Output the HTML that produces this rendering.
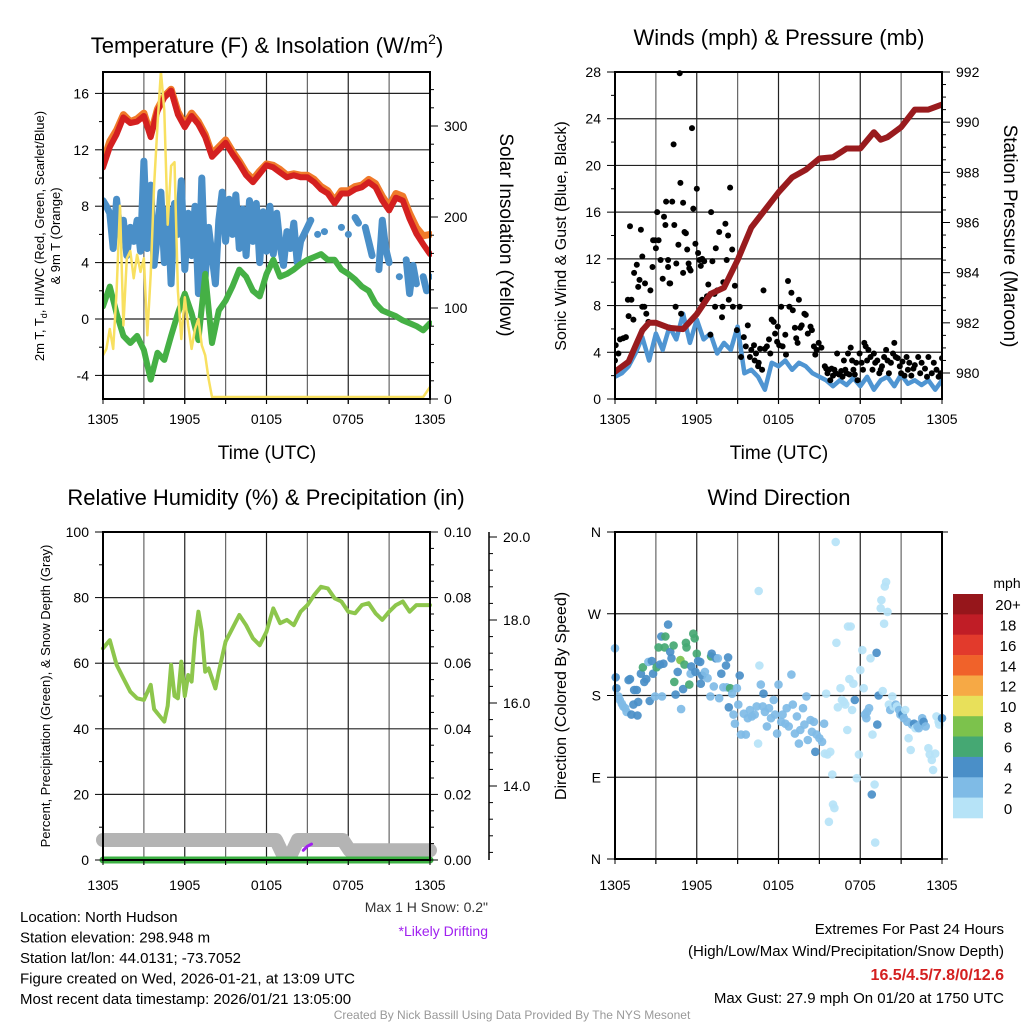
<!DOCTYPE html>
<html><head><meta charset="utf-8"><style>
html,body{margin:0;padding:0;background:#fff;}
svg{display:block;font-family:"Liberation Sans",Arial,sans-serif;}
</style></head><body>
<svg id="chart" width="1024" height="1024" viewBox="0 0 1024 1024" xmlns="http://www.w3.org/2000/svg">
<rect x="0" y="0" width="1024" height="1024" fill="#fff"/>
</svg>
<script>
// ---------- DATA ----------
const timeTicks = ["1305","1905","0105","0705","1305"];
const tempHalfHourT = [0,0.5,1,1.5,2,2.5,3,3.5,4,4.5,5,5.5,6,6.5,7,7.5,8,8.5,9,9.5,10,10.5,11,11.5,12,12.5,13,13.5,14,14.5,15,15.5,16,16.5,17,17.5,18,18.5,19,19.5,20,20.5,21,21.5,22,22.5,23,23.5,24];
const tempRed = [10.75,12.2,13.1,14.3,13.9,14.0,14.4,12.9,14.75,15.7,16.2,14.5,13.6,14.4,13.8,12.9,11.5,12.0,12.5,11.7,11.0,10.2,9.7,10.3,10.9,10.75,10.4,10.05,10.2,10.05,10.05,9.7,9.2,8.9,8.2,8.9,8.9,9.2,9.35,9.7,9.35,8.4,7.7,8.6,8.4,7.1,6.05,5.3,4.6];
const temp9m = [11.1,12.6,13.4,14.5,14.0,14.2,14.6,13.1,14.9,15.8,16.3,14.7,13.8,14.6,14.0,13.1,11.7,12.2,12.7,11.9,11.2,10.4,9.9,10.5,11.0,10.9,10.6,10.2,10.3,10.2,10.2,9.9,9.4,9.1,8.4,9.1,9.1,9.4,9.5,9.9,9.6,8.7,8.0,8.9,8.7,7.5,6.5,5.9,6.0];
const dewGreen = [0.9,2.3,0.4,-1.2,-1.7,-1.2,-2.2,-4.3,-2.4,-2.9,-1.2,0.4,1.8,0.4,-1.5,3.2,-1.7,0.6,1.3,2.3,3.5,3.0,2.0,1.6,3.2,4.2,3.0,3.2,3.5,3.9,4.2,4.4,4.6,4.2,4.2,3.5,3.2,2.8,2.3,2.0,1.1,0.6,0.4,0.2,-0.1,-0.3,-0.5,-0.8,-0.3];
const hiwcBlue = [8.4,8.0,7.5,5.0,8.5,6.0,7.0,4.5,6.5,
5.5,7.0,4.8,11.2,5.0,9.5,3.8,6.0,
9.0,4.0,7.8,2.5,8.2,6.0,9.8,3.5,
7.5,4.5,8.0,1.8,10.0,3.0,6.5,4.5,
2.5,7.0,9.0,5.5,8.5,6.0,8.8,5.0,
7.8,4.5,8.4,5.5,8.2,4.0,7.6,4.8,
8.0,4.6,7.5,5.2,3.8,6.2,5.0,6.8,
4.0,5.5,6.0,6.5,7.0,null,6.0,null,
6.2,null,null,null,null,6.5,null,6.0,
null,7.2,6.8,null,6.5,5.5,4.5,null,
3.5,7.0,5.0,4.0,null,null,3.0,null,
4.2,1.8,3.8,2.5,null,3.0,2.0,null,3.0];
const solarT = [0,0.25,0.5,0.75,1,1.25,1.5,1.75,2,2.25,2.5,2.75,3,3.25,3.5,3.75,4,4.25,4.5,4.75,5,5.25,5.5,5.75,6,6.25,6.5,6.75,7,7.25,7.5,7.75,8,12,18,23.5,24];
const solarV = [46,53,75,53,117,211,79,153,161,131,157,138,153,68,135,233,300,359,316,190,255,259,117,64,110,79,53,75,86,57,46,20,0,0,0,0,11];
const pressT = [0,1,2,2.5,3,4,5,6,7,8,9,10,11,12,13,14,15,16,17,18,19,19.5,20,21,22,23,24];
const pressV = [980.05,980.45,981.7,982.0,982.0,981.8,981.75,982.35,983.15,983.4,984.5,985.8,986.5,987.2,987.8,988.1,988.55,988.6,988.95,988.95,989.6,989.3,989.4,989.8,990.5,990.5,990.7];
const windSpeed = [1.9,2.2,2.8,3.9,5.3,3.3,5.6,4.2,6.2,5.1,7.3,4.8,6.8,5.1,5.6,3.9,4.8,4.2,6.2,2.2,2.5,1.9,0.8,3.1,2.8,3.3,2.5,3.1,2.8,2.2,1.9,1.6,1.1,1.6,1.2,1.8,1.1,1.9,0.8,1.6,1.9,1.1,2.1,1.3,1.6,1.2,1.6,0.8,1.6];
const gustT = [0,0.05,0.25,0.37,0.6,0.8,0.95,1.1,1.0,1.2,1.35,1.4,1.6,1.7,1.8,1.9,2.0,2.0,2.15,2.2,2.3,2.45,2.6,2.75,2.8,2.95,3.0,3.1,3.2,3.35,3.5,3.6,3.7,3.75,3.9,3.9,4.0,4.05,4.2,4.3,4.35,4.45,4.5,4.65,4.75,4.8,4.85,5.0,5.0,5.1,5.2,5.3,5.4,5.45,5.55,5.65,5.75,5.9,6.0,6.1,6.2,6.3,6.4,6.55,6.4,6.75,6.85,7.0,7.05,7.15,7.3,7.35,7.4,7.5,7.65,7.85,7.9,7.95,8.1,8.2,8.3,8.35,8.45,8.6,8.65,8.8,8.95,9.15,9.25,9.45,9.6,9.75,9.9,10.0,10.2,10.25,10.35,10.5,10.55,10.65,10.8,10.9,11.0,11.15,11.3,11.4,11.5,11.65,11.75,11.9,11.95,12.05,12.2,12.3,12.5,12.55,12.7,12.8,12.95,13.05,13.2,13.3,13.4,13.5,13.6,13.7,13.9,14.0,14.15,14.35,14.45,14.6,14.7,14.8,14.95,15.15,15.4,15.5,15.6,15.7,15.8,15.9,16.0,16.1,16.2,16.3,16.45,16.6,16.7,16.8,16.9,17.0,17.1,17.2,17.3,17.4,17.5,17.6,17.7,17.8,17.95,18.1,18.2,18.3,18.4,18.5,18.6,18.75,18.9,19.0,19.1,19.25,19.4,19.5,19.6,19.75,19.9,20.0,20.1,20.25,20.4,20.5,20.6,20.75,20.9,21.0,21.1,21.25,21.4,21.5,21.6,21.75,21.9,22.0,22.25,22.4,22.5,22.75,22.9,23.0,23.25,23.4,23.6,23.75,23.9,24.0];
const gustV = [3.3,4.6,3.9,5.1,5.2,5.3,8.5,14.8,7.1,8.5,6.8,10.8,11.5,9.6,10.2,14.5,7.9,12.2,7.9,9.9,7.3,6.6,9.3,11.3,13.6,13.6,12.9,16.0,13.6,11.9,10.3,15.6,14.9,16.9,11.3,11.9,9.9,9.9,16.9,21.8,14.9,7.9,11.6,13.2,27.9,18.5,7.3,10.8,16.8,14.3,14.2,12.8,11.6,11.2,11.0,23.2,16.3,13.3,18.0,12.5,11.9,11.4,12.0,11.8,8.5,8.8,9.8,5.5,16.0,11.8,9.0,7.9,12.9,9.3,14.3,7.0,7.9,10.0,15.0,11.9,14.0,8.5,18.1,12.8,7.9,9.7,5.9,7.9,3.6,5.3,4.5,6.3,3.6,4.2,4.6,3.3,3.9,2.8,3.1,4.3,2.5,9.3,4.3,4.5,5.1,3.9,6.8,6.6,5.6,4.9,6.2,4.6,7.9,4.5,5.5,3.8,10.1,7.9,9.1,7.6,6.1,5.2,4.8,8.5,6.1,6.3,7.3,7.2,5.6,6.2,5.9,4.5,3.8,4.2,4.8,4.4,2.8,2.6,2.2,2.5,1.6,2.6,2.0,2.5,2.2,3.9,2.1,2.4,1.9,3.3,2.5,2.2,3.9,2.1,4.4,3.3,2.5,2.1,3.1,1.6,3.9,3.1,2.5,4.8,4.5,3.3,4.2,3.6,2.5,3.9,3.1,3.3,2.2,2.5,2.8,3.6,4.2,3.3,2.2,3.1,3.9,4.8,3.6,3.5,2.8,2.2,3.2,2.0,3.6,2.5,3.1,2.0,2.6,2.9,3.6,2.2,3.1,2.6,1.9,3.6,2.2,3.1,2.5,1.9,2.2,3.5];
const rhV = [64.5,67,59.5,55.4,51.3,49.3,48.8,53.4,46,44.7,42.2,47,59.5,50,49.3,60.5,50,56.4,54.4,67.6,75.7,69.6,57.4,58.4,55.4,52.3,57.4,66.6,70.6,74.7,71.6,67.6,65.5,69.6,76.7,72.2,73.2,71.6,75.7,77.7,80.8,83.3,82.8,79.8,78.8,75.7,75.2,77.7,78.3,75.2,73.2,75.7,77.7,78.8,75.7,77.7,77.7];
const rhT = [0,0.5,1,1.5,2,2.5,3,3.5,3.75,4,4.5,4.75,5,5.25,5.5,5.75,6,6.25,6.5,6.75,7,7.25,7.5,7.75,8,8.25,8.5,9,9.5,10,10.5,11,11.5,12,12.5,13,13.5,14,14.5,15,15.5,16,16.5,17,17.5,18,18.5,19,19.5,20,20.5,21,21.5,22,22.5,23,24];
const snowT = [0,12.7,13.2,13.8,14.3,17.6,18.1,24];
const snowV = [12.7,12.7,12.35,12.35,12.7,12.7,12.45,12.45];
const precipT = [0,24];
const precipV = [0,0];
const driftT = [14.7,15.0,15.3];
const driftV = [12.45,12.55,12.6];
const dirT = [0,0.05,0.1,0.25,0.35,0.5,0.6,0.75,0.85,1.0,1.1,1.2,1.35,1.4,1.6,1.65,1.7,1.9,2.05,2.15,2.3,2.45,2.55,2.7,2.8,2.95,3.05,3.2,3.3,3.4,3.45,3.55,3.65,3.7,3.9,4.05,4.15,4.3,4.35,4.45,4.6,4.8,4.85,5.0,5.1,5.2,5.25,5.45,5.55,5.6,5.75,5.85,5.9,6.0,6.1,6.25,6.3,6.4,6.6,6.8,7.0,7.05,7.1,7.25,7.4,7.55,7.65,7.8,7.95,8.15,8.2,8.3,8.35,8.45,8.6,8.7,8.8,8.95,9.05,9.15,9.25,9.45,9.6,9.75,9.9,10.05,10.25,10.4,10.5,10.55,10.6,10.7,10.85,10.9,11.0,11.15,11.3,11.45,11.65,11.75,11.9,12.0,12.2,12.3,12.5,12.6,12.75,12.95,13.05,13.2,13.35,13.5,13.6,13.8,13.9,14.05,14.15,14.35,14.45,14.6,14.7,14.8,15.0,15.2,15.35,15.4,15.5,15.6,15.7,15.8,15.95,16.0,16.1,16.2,16.25,16.35,16.55,16.65,16.8,16.9,17.05,17.1,17.2,17.3,17.4,17.5,17.6,17.75,17.9,18.0,18.15,18.25,18.35,18.45,18.5,18.65,18.75,18.85,18.9,19.05,19.1,19.2,19.25,19.35,19.5,19.55,19.65,19.75,19.8,19.9,20.0,20.1,20.2,20.35,20.45,20.6,20.7,20.85,20.95,21.1,21.2,21.3,21.45,21.55,21.7,21.8,21.95,22.05,22.2,22.3,22.45,22.55,22.65,22.8,23.0,23.1,23.25,23.35,23.5,23.6,23.75,23.8,24.0];
const dirDeg = [232,200,188,179,175,171,168,166,162,197,198,159,170,186,186,158,173,204,211,195,198,217,174,218,204,179,211,233,214,245,179,215,233,245,258,228,221,235,195,181,206,219,165,187,214,238,233,192,204,212,248,243,206,226,218,217,193,202,206,199,179,223,226,190,221,221,177,204,189,213,189,222,167,188,182,159,149,188,170,202,137,160,137,155,164,157,159,168,127,295,213,192,168,182,162,146,166,155,175,159,138,192,151,159,149,166,146,203,170,138,157,127,142,166,148,179,131,153,140,151,118,137,133,129,149,116,182,115,41,118,93,60,56,349,238,167,188,175,173,170,142,256,198,256,164,193,175,89,115,208,230,188,159,155,162,166,221,71,137,82,18,227,148,180,276,285,185,259,300,305,272,170,164,179,168,170,168,164,159,159,155,164,151,133,120,148,149,144,146,144,149,155,151,146,122,115,109,98,116,157,151,148,155];
const dirSpd = [3,5,5,3,3,3,3,3,3,5,5,5,5,5,5,5,5,5,7,5,5,3,5,5,5,3,7,7,5,5,3,5,7,7,5,5,5,7,7,5,5,9,3,5,7,7,7,7,3,5,7,7,5,7,5,5,5,5,3,3,3,7,5,3,5,3,3,5,3,5,3,5,5,7,3,3,3,3,3,5,3,3,3,3,3,3,3,3,1,1,1,3,3,5,3,3,3,3,3,3,3,3,3,3,3,3,3,3,3,3,3,3,3,3,3,3,3,3,3,3,5,3,3,3,3,1,1,1,1,1,1,1,1,1,1,1,1,1,1,1,1,1,1,1,1,1,5,1,1,1,1,1,3,3,3,3,1,5,1,1,1,5,5,5,1,1,1,1,1,1,1,1,3,1,1,3,1,3,3,5,3,1,3,1,1,3,5,1,3,3,3,3,5,3,1,1,1,1,1,1,1,1,5];
const speedBins = ["0","2","4","6","8","10","12","14","16","18","20+"];
const binColors = ["#b6e3f7","#7fbbe6","#4a8fc8","#45a873","#7cc24c","#e8e05a","#f6a945","#f0622a","#e23a2c","#c01d26","#96161b"];

// ---------- HELPERS ----------
const NS = "http://www.w3.org/2000/svg";
const svg = document.getElementById("chart");
function mk(tag, parent){ const e=document.createElementNS(NS,tag); (parent||svg).appendChild(e); return e; }
function set(e, o){ for(const k in o) e.setAttribute(k,o[k]); return e; }
function txt(str, x, y, size, anchor, parent, extra){
  const t=mk("text",parent); set(t,{x:x,y:y,"font-size":size,"text-anchor":anchor||"middle",fill:"#000"});
  if(extra) set(t,extra); t.textContent=str; return t;
}
function lin(d0,d1,r0,r1){ return v=>r0+(v-d0)*(r1-r0)/(d1-d0); }

function framePanel(p, name){
  const g=mk("g"); 
  
  for(let h=3;h<24;h+=3){
    const l=mk("line",g); set(l,{x1:p.x(h),x2:p.x(h),y1:p.y0,y2:p.y1+5,stroke:(h%6===0)?"#222":"#666","stroke-width":1.2});
    
    
  }
  return g;
}
function xTicks(p, g, ly){
  timeTicks.forEach((s,i)=>{
    const t=txt(s,p.x(i*6),ly,14,"middle",g);
    
    
  });
  for(let h=0;h<=24;h+=3){
    const l=mk("line",g); set(l,{x1:p.x(h),x2:p.x(h),y1:p.y1,y2:p.y1+5,stroke:"#000","stroke-width":1});
  }
}
function hGrid(g, p, ys){
  ys.forEach(y=>{ const l=mk("line",g); set(l,{x1:p.x0,x2:p.x1,y1:y,y2:y,stroke:"#222","stroke-width":1.2});   });
}
function leftAxis(g, p, vals, fy, fmt, minors){
  vals.forEach(v=>{ const y=fy(v); const l=mk("line",g); set(l,{x1:p.x0-8,x2:p.x0,y1:y,y2:y,stroke:"#000","stroke-width":1});
    const t=txt(fmt(v),p.x0-14,y+5,14,"end",g);   });
  (minors||[]).forEach(v=>{ const y=fy(v); const l=mk("line",g); set(l,{x1:p.x0-4,x2:p.x0,y1:y,y2:y,stroke:"#000","stroke-width":1}); });
}
function rightAxis(g, x, vals, fy, fmt, minors){
  vals.forEach(v=>{ const y=fy(v); const l=mk("line",g); set(l,{x1:x,x2:x+8,y1:y,y2:y,stroke:"#000","stroke-width":1});
    const t=txt(fmt(v),x+14,y+5,14,"start",g);   });
  (minors||[]).forEach(v=>{ const y=fy(v); const l=mk("line",g); set(l,{x1:x,x2:x+4,y1:y,y2:y,stroke:"#000","stroke-width":1}); });
}
function border(g,p){ const r=mk("rect",g); set(r,{x:p.x0,y:p.y0,width:p.x1-p.x0,height:p.y1-p.y0,fill:"none",stroke:"#000","stroke-width":2});   }
function seriesPath(ts, vs, fx, fy){
  let d="", pen=false;
  for(let i=0;i<vs.length;i++){
    if(vs[i]===null||vs[i]===undefined){ pen=false; continue; }
    const X=fx(ts[i]).toFixed(1), Y=fy(vs[i]).toFixed(1);
    if(!pen){ d+="M"+X+" "+Y; const nx=(i+1<vs.length&&vs[i+1]!==null)?1:0; if(!nx) d+="l0.1 0"; pen=true; } else d+="L"+X+" "+Y;
  }
  return d;
}
function drawLine(g, ts, vs, fx, fy, color, w, name){
  const pth=mk("path",g); set(pth,{d:seriesPath(ts,vs,fx,fy),fill:"none",stroke:color,"stroke-width":w,"stroke-linejoin":"round","stroke-linecap":"round"});
  
  
  return pth;
}
function titleText(s,x,y,name,size){ const t=txt(s,x,y,size||22,"middle");   return t; }
function rotText(s,x,y,size,ang,name){ const t=txt(s,x,y,size,"middle",svg,{transform:"rotate("+ang+" "+x+" "+y+")"});   return t; }

// ---------- PANEL 1: Temperature ----------
(function(){
  const p={x0:103,x1:430,y0:72,y1:399}; p.x=lin(0,24,p.x0,p.x1);
  const ty=v=>319-v*14.1;
  const sy=lin(0,300,397,125);
  const g=framePanel(p,"temperature-panel");
  hGrid(g,p,[-4,0,4,8,12,16].map(ty));
  const clip=mk("clipPath",g); clip.setAttribute("id","c1"); const cr=mk("rect",clip); set(cr,{x:p.x0,y:p.y0,width:p.x1-p.x0+2,height:p.y1-p.y0+3});
  const dg=mk("g",g); dg.setAttribute("clip-path","url(#c1)");
  
  
  const q=[]; for(let i=0;i<hiwcBlue.length;i++) q.push(i*0.25);
  drawLine(dg,q,hiwcBlue,p.x,ty,"#4a8fc8",7,"hi-wc-line");
  drawLine(dg,tempHalfHourT,dewGreen,p.x,ty,"#45b045",6,"dewpoint-line");
  drawLine(dg,tempHalfHourT,temp9m,p.x,ty,"#f07a2a",7,"9m-temp-line");
  drawLine(dg,tempHalfHourT,tempRed,p.x,ty,"#d42020",6,"2m-temp-line");
  border(g,p);
  drawLine(dg,solarT,solarV,p.x,sy,"#f8e060",2.5,"solar-insolation-line");
  xTicks(p,g,424);
  leftAxis(g,p,[-4,0,4,8,12,16],ty,v=>String(v),[-2,2,6,10,14]);
  rightAxis(g,p.x1,[0,100,200,300],lin(0,300,399,126),v=>String(v),[20,40,60,80,120,140,160,180,220,240,260,280,320,340]);
  const t=mk("text"); set(t,{x:267,y:53,"font-size":22,"text-anchor":"middle"});  
  t.innerHTML='Temperature (F) &amp; Insolation (W/m<tspan dy="-9" font-size="14">2</tspan><tspan dy="9">)</tspan>';
  const xt=txt("Time (UTC)",267,459,19);  
  const yt=mk("text"); set(yt,{"font-size":13,"text-anchor":"middle",transform:"translate(44,236) rotate(-90)"});  
  yt.innerHTML='2m T, T<tspan dy="3" font-size="9">d</tspan><tspan dy="-3">, HI/WC (Red, Green, Scarlet/Blue)</tspan>';
  const yt2=mk("text"); set(yt2,{"font-size":13,"text-anchor":"middle",transform:"translate(60,236) rotate(-90)"}); yt2.textContent="& 9m T (Orange)";
   
  rotText("Solar Insolation (Yellow)",500,235,19,90,"solar-y-axis-title");
})();

// ---------- PANEL 2: Winds ----------
(function(){
  const p={x0:615,x1:942,y0:72,y1:399}; p.x=lin(0,24,p.x0,p.x1);
  const wy=lin(0,28,399,72);
  const py=lin(980,992,373,72);
  const g=framePanel(p,"winds-panel");
  hGrid(g,p,[4,8,12,16,20,24].map(wy));
  const clip=mk("clipPath",g); clip.setAttribute("id","c2"); const cr=mk("rect",clip); set(cr,{x:p.x0,y:p.y0-4,width:p.x1-p.x0,height:p.y1-p.y0+4});
  const dg=mk("g",g); dg.setAttribute("clip-path","url(#c2)");
  
  
  drawLine(dg,tempHalfHourT,windSpeed,p.x,wy,"#4f95d2",4.5,"sonic-wind-line");
  for(let i=0;i<gustT.length;i++){
    const c=mk("circle",dg); set(c,{cx:p.x(gustT[i]).toFixed(1),cy:wy(gustV[i]).toFixed(1),r:3,fill:"#000"});
    
    
  }
  drawLine(dg,pressT,pressV,p.x,py,"#991b1e",6,"station-pressure-line");
  border(g,p); xTicks(p,g,424);
  leftAxis(g,p,[0,4,8,12,16,20,24,28],wy,v=>String(v),[2,6,10,14,18,22,26]);
  rightAxis(g,p.x1,[980,982,984,986,988,990,992],py,v=>String(v),[980.5,981,981.5,982.5,983,983.5,984.5,985,985.5,986.5,987,987.5,988.5,989,989.5,990.5,991,991.5]);
  titleText("Winds (mph) & Pressure (mb)",779,45,"winds-title");
  const xt=txt("Time (UTC)",779,459,19);  
  rotText("Sonic Wind & Gust (Blue, Black)",566,236,16,-90,"wind-y-axis-title");
  rotText("Station Pressure (Maroon)",1004,236,19,90,"pressure-y-axis-title");
})();

// ---------- PANEL 3: RH & Precip ----------
(function(){
  const p={x0:103,x1:430,y0:532,y1:860}; p.x=lin(0,24,p.x0,p.x1);
  const ry=lin(0,100,860,532);
  const pry=lin(0,0.1,860,532);
  const sny=lin(14,20,786,537);
  const g=framePanel(p,"humidity-panel");
  hGrid(g,p,[20,40,60,80].map(ry));
  const dg=mk("g",g);
  
  
  drawLine(dg,snowT,snowV,p.x,sny,"#b4b4b4",14,"snow-depth-line");
  drawLine(dg,driftT,driftV,p.x,sny,"#a020f0",3,"drifting-snow-line");
  drawLine(dg,precipT,precipV,p.x,pry,"#3cb043",7,"precipitation-line");
  drawLine(dg,rhT,rhV,p.x,ry,"#8dc64c",4,"relative-humidity-line");
  border(g,p); xTicks(p,g,890);
  leftAxis(g,p,[0,20,40,60,80,100],ry,v=>String(v),[10,30,50,70,90]);
  rightAxis(g,p.x1,[0,0.02,0.04,0.06,0.08,0.1],pry,v=>v.toFixed(2),[0.005,0.01,0.015,0.025,0.03,0.035,0.045,0.05,0.055,0.065,0.07,0.075,0.085,0.09,0.095]);
  const ax=mk("line",g); set(ax,{x1:489,x2:489,y1:532,y2:860,stroke:"#000","stroke-width":1.5});  
  rightAxis(g,489,[14,16,18,20],sny,v=>v.toFixed(1),[12.4,12.8,13.2,13.6,14.4,14.8,15.2,15.6,16.4,16.8,17.2,17.6,18.4,18.8,19.2,19.6]);
  titleText("Relative Humidity (%) & Precipitation (in)",266,505,"humidity-title");
  rotText("Percent, Precipitation (Green), & Snow Depth (Gray)",50,696,13,-90,"humidity-y-axis-title");
  const m=txt('Max 1 H Snow: 0.2"',488,912,14,"end");   m.setAttribute("fill","#333");
  const d=txt("*Likely Drifting",488,936,14,"end");   d.setAttribute("fill","#a020f0");
})();

// ---------- PANEL 4: Wind Direction ----------
(function(){
  const p={x0:615,x1:942,y0:532,y1:859}; p.x=lin(0,24,p.x0,p.x1);
  const dy=lin(0,360,859,532);
  const g=framePanel(p,"wind-direction-panel");
  hGrid(g,p,[90,180,270].map(dy));
  const dg=mk("g",g);
  
  
  for(let i=0;i<dirT.length;i++){
    let b=Math.min(10,Math.floor(dirSpd[i]/2));
    const c=mk("circle",dg); set(c,{cx:p.x(dirT[i]).toFixed(1),cy:dy(dirDeg[i]).toFixed(1),r:4.3,fill:binColors[b],"fill-opacity":0.92});
    
    
  }
  border(g,p); xTicks(p,g,890);
  leftAxis(g,p,[0,90,180,270,360],dy,v=>["N","E","S","W","N"][v/90],[]);
  [0,90,180,270,360].forEach(v=>{const l=mk("line",g); set(l,{x1:p.x1,x2:p.x1+6,y1:dy(v),y2:dy(v),stroke:"#000"});});
  titleText("Wind Direction",779,505,"wind-direction-title");
  rotText("Direction (Colored By Speed)",566,696,16,-90,"direction-y-axis-title");
  const cb=mk("g"); 
  
  const bh=(818-594)/speedBins.length;
  for(let i=0;i<speedBins.length;i++){
    const k=speedBins.length-1-i;
    const r=mk("rect",cb); set(r,{x:953,y:(594+i*bh).toFixed(1),width:30,height:(bh+0.3).toFixed(1),fill:binColors[k]});
    
    
    const t=txt(speedBins[k],1008,594+i*bh+bh/2+6,15,"middle",cb);
    
    
  }
  const u=txt("mph",1007,588,14,"middle",cb);  
})();

// ---------- Footer text ----------
(function(){
  const left=["Location: North Hudson","Station elevation: 298.948 m","Station lat/lon: 44.0131; -73.7052","Figure created on Wed, 2026-01-21, at 13:09 UTC","Most recent data timestamp: 2026/01/21 13:05:00"];
  left.forEach((s,i)=>{ const t=txt(s,20,922+i*20.5,15,"start");   });
  const a=txt("Extremes For Past 24 Hours",1004,934,15,"end");  
  const b=txt("(High/Low/Max Wind/Precipitation/Snow Depth)",1004,956,15,"end");  
  const c=txt("16.5/4.5/7.8/0/12.6",1004,980,16,"end",svg,{fill:"#d42020","font-weight":"bold"});  
  const d=txt("Max Gust: 27.9 mph On 01/20 at 1750 UTC",1004,1003,15,"end");  
  const e=txt("Created By Nick Bassill Using Data Provided By The NYS Mesonet",512,1019,12,"middle",svg,{fill:"#999"});  
})();
</script>
</body></html>
